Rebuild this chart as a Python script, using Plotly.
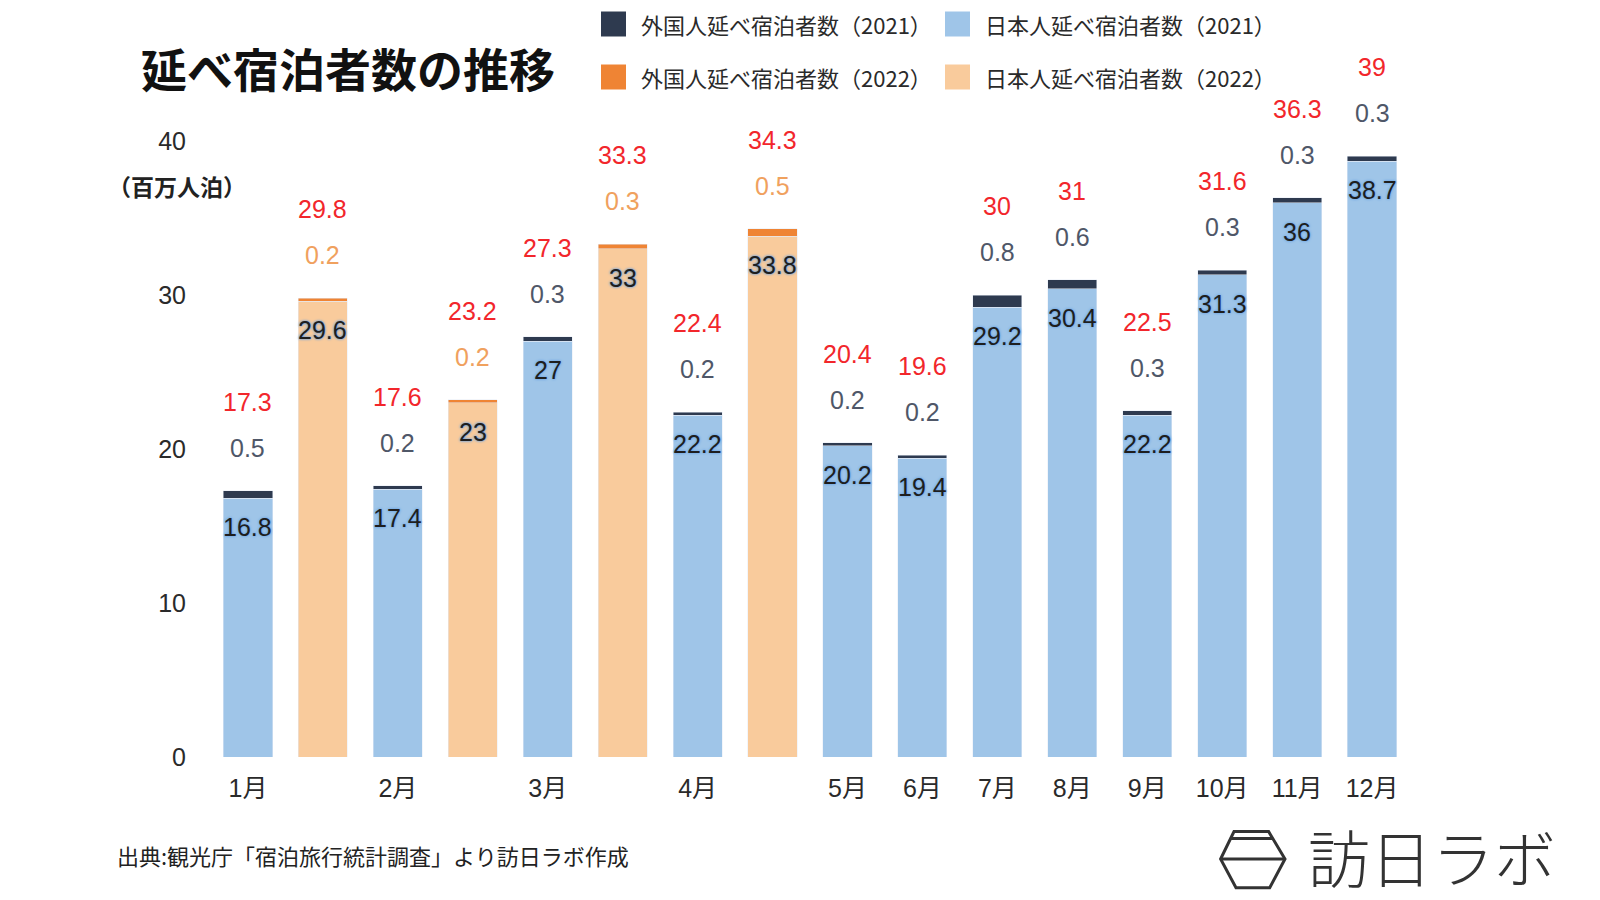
import plotly.graph_objects as go

# ---- data ----
months = ["1月", "2月", "3月", "4月", "5月", "6月", "7月", "8月", "9月", "10月", "11月", "12月"]
jp_2021 = [16.8, 17.4, 27, 22.2, 20.2, 19.4, 29.2, 30.4, 22.2, 31.3, 36, 38.7]
fg_2021 = [0.5, 0.2, 0.3, 0.2, 0.2, 0.2, 0.8, 0.6, 0.3, 0.3, 0.3, 0.3]
total_2021 = [17.3, 17.6, 27.3, 22.4, 20.4, 19.6, 30, 31, 22.5, 31.6, 36.3, 39]
months_2022 = ["1月", "2月", "3月", "4月"]
jp_2022 = [29.6, 23, 33, 33.8]
fg_2022 = [0.2, 0.2, 0.3, 0.5]
total_2022 = [29.8, 23.2, 33.3, 34.3]
y_ticks = [0, 10, 20, 30, 40]

legend_names = ["外国人延べ宿泊者数（2021）", "日本人延べ宿泊者数（2021）",
                "外国人延べ宿泊者数（2022）", "日本人延べ宿泊者数（2022）"]

C_FG21, C_JP21, C_FG22, C_JP22 = "#2e3a4f", "#9fc5e8", "#ef8434", "#f9cb9c"
RED = "#f2262b"

# positions: Jan-Apr have 2021 & 2022 side by side
n22 = len(jp_2022)
pos21 = [2 * k if k < n22 else k + n22 for k in range(len(months))]
pos22 = [2 * k + 1 for k in range(n22)]

W, H = 1600, 900
L, R, T, B = 195, 191, 133, 151
pw, ph = W - L - R, H - T - B


def px(x):
    return (x - L) / pw


def py(y):
    return (H - B - y) / ph


NUMFONT = "Liberation Sans, Arial, Noto Sans CJK JP, sans-serif"
TICKFONT = "Liberation Sans, Noto Sans CJK JP, sans-serif"
CJK = "Noto Sans CJK JP, sans-serif"
bw = 0.655

fig = go.Figure()
fig.add_bar(x=pos21, y=jp_2021, marker_color=C_JP21, width=bw, name=legend_names[1], cliponaxis=False)
fig.add_bar(x=pos21, y=fg_2021, marker_color=C_FG21, width=bw, name=legend_names[0], cliponaxis=False)
fig.add_bar(x=pos22, y=jp_2022, marker_color=C_JP22, width=bw, name=legend_names[3], cliponaxis=False)
fig.add_bar(x=pos22, y=fg_2022, marker_color=C_FG22, width=bw, name=legend_names[2], cliponaxis=False)

ann = []
halo = "0px 0px 3px #5d9be0, 0px 0px 2px #7fb2ea"


def fmt(v):
    return f"{v:g}"


def labels(xs, jp, fg, tot, fg_color):
    for x, j, f, t in zip(xs, jp, fg, tot):
        ann.append(dict(x=x, y=j, xref="x", yref="y", yshift=-29, text=fmt(j), showarrow=False,
                        font=dict(family=NUMFONT, size=25, color="#1e1e1e", shadow=halo)))
        ann.append(dict(x=x, y=j + f, xref="x", yref="y", yshift=43, text=fmt(f), showarrow=False,
                        font=dict(family=NUMFONT, size=25, color=fg_color)))
        ann.append(dict(x=x, y=j + f, xref="x", yref="y", yshift=89, text=fmt(t), showarrow=False,
                        font=dict(family=NUMFONT, size=25, color=RED)))


labels(pos21, jp_2021, fg_2021, total_2021, "#4f5768")
labels(pos22, jp_2022, fg_2022, total_2022, "#f0a15e")

# title & notes
ann.append(dict(x=px(131), y=py(59), xref="paper", yref="paper", xanchor="left", yanchor="middle",
                text="<b>延べ宿泊者数の推移</b>", showarrow=False,
                font=dict(family=CJK, size=46, color="#111111")))
ann.append(dict(x=px(98), y=py(178), xref="paper", yref="paper", xanchor="left", yanchor="middle",
                text="<b>（百万人泊）</b>", showarrow=False,
                font=dict(family=CJK, size=23, color="#222222")))
ann.append(dict(x=px(107), y=py(847), xref="paper", yref="paper", xanchor="left", yanchor="middle",
                text="出典:観光庁「宿泊旅行統計調査」より訪日ラボ作成", showarrow=False,
                font=dict(family=CJK, size=22, color="#222222")))
ann.append(dict(x=px(1298), y=py(848), xref="paper", yref="paper", xanchor="left", yanchor="middle",
                text="訪日ラボ", showarrow=False,
                font=dict(family=CJK, size=62, color="#333333", weight=300)))

shapes = []
# manual legend
leg_items = [(593, 16, C_FG21, legend_names[0]), (937, 16, C_JP21, legend_names[1]),
             (593, 69, C_FG22, legend_names[2]), (937, 69, C_JP22, legend_names[3])]
for lx, ly, col, name in leg_items:
    shapes.append(dict(type="rect", xref="paper", yref="paper", x0=px(lx), x1=px(lx + 25),
                       y0=py(ly - 12.5), y1=py(ly + 12.5), fillcolor=col, line_width=0))
    ann.append(dict(x=px(lx + 38), y=py(ly), xref="paper", yref="paper", xanchor="left", yanchor="middle",
                    text=name, showarrow=False, font=dict(family=CJK, size=22, color="#2a2a2a")))

# logo icon (hexagon)
hexpts = [(1226, 823.5), (1260.6, 823.5), (1277, 851), (1261.7, 879.7), (1228, 879.7), (1212.6, 851)]
path = "M " + " L ".join(f"{px(a)},{py(b)}" for a, b in hexpts) + " Z"
shapes.append(dict(type="path", xref="paper", yref="paper", path=path, line=dict(color="#333333", width=3)))
shapes.append(dict(type="line", xref="paper", yref="paper", x0=px(1212.6), x1=px(1277), y0=py(851), y1=py(851),
                   line=dict(color="#333333", width=3)))
shapes.append(dict(type="line", xref="paper", yref="paper", x0=px(1222.5), x1=px(1264.8), y0=py(830.6),
                   y1=py(830.6), line=dict(color="#333333", width=3)))

fig.update_layout(
    width=W, height=H, barmode="stack", showlegend=False,
    plot_bgcolor="white", paper_bgcolor="white",
    margin=dict(l=L, r=R, t=T, b=B, autoexpand=False),
    annotations=ann, shapes=shapes,
    xaxis=dict(range=[-0.6, 15.6], tickvals=pos21, ticktext=months, showgrid=False, zeroline=False,
               showline=False, ticks="", ticklabelstandoff=14,
               tickfont=dict(family=TICKFONT, size=25, color="#2a2a2a")),
    yaxis=dict(range=[0, 40], tickvals=y_ticks, showgrid=False, zeroline=False, showline=False,
               ticks="", ticklabelstandoff=16,
               tickfont=dict(family=TICKFONT, size=25, color="#2a2a2a")),
)

fig.write_html("out.html")
